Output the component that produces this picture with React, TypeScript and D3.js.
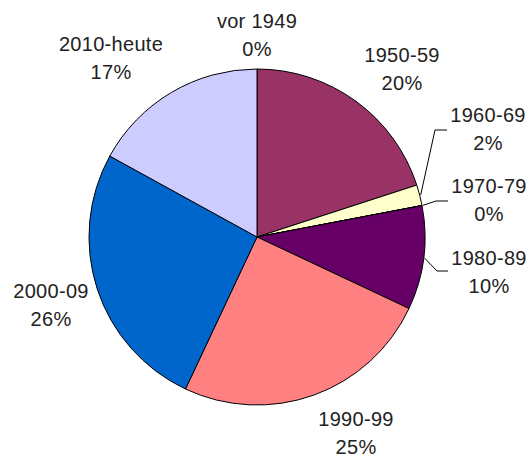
import { FC } from 'react';
import * as d3 from 'd3';

const categories = ['vor 1949', '1950-59', '1960-69', '1970-79', '1980-89', '1990-99', '2000-09', '2010-heute'];
const shares = [0, 20, 2, 0, 10, 25, 26, 17];
const percentLabels = ['0%', '20%', '2%', '0%', '10%', '25%', '26%', '17%'];
const colors = ['#9999FF', '#993366', '#FFFFCC', '#CCFFFF', '#660066', '#FF8080', '#0066CC', '#CCCCFF'];

// label anchors (center x, first baseline) and leader line bends
const labelPos: [number, number][] = [
  [257, 28], [402, 62], [488, 122], [489, 193], [489, 265], [356, 426], [51, 298], [111, 51],
];
const leaders: Record<number, [number, number][]> = {
  2: [[435, 130], [447, 130]],
  3: [[436, 201], [448, 201]],
  4: [[437, 271], [448, 271]],
};

const W = 531;
const H = 459;
const cx = 257;
const cy = 237;
const r = 168;

const App: FC = () => {
  const pie = d3.pie<number>().sort(null).value(d => d).startAngle(0).endAngle(2 * Math.PI);
  const arcs = pie(shares);
  const arc = d3.arc<d3.PieArcDatum<number>>().innerRadius(0).outerRadius(r);
  const edge = d3.arc<d3.PieArcDatum<number>>().innerRadius(r + 1).outerRadius(r + 1);

  return (
    <svg width={W} height={H} style={{ position: 'absolute', left: 0, top: 0, background: '#fff' }}>
      <g transform={`translate(${cx},${cy})`}>
        {arcs.map((a, i) => (
          <path key={categories[i]} d={arc(a) || ''} fill={colors[i]} stroke="#000" strokeWidth={1} strokeLinejoin="round" />
        ))}
      </g>
      {Object.entries(leaders).map(([k, pts]) => {
        const i = +k;
        const [sx, sy] = edge.centroid(arcs[i]);
        const line = d3.line()([[cx + sx, cy + sy], ...pts]);
        return <path key={k} d={line || ''} fill="none" stroke="#000" strokeWidth={1} />;
      })}
      <g fontFamily="'Liberation Sans', Arial, sans-serif" fontSize={20} fill="#222" textAnchor="middle" letterSpacing={0.3}>
        {categories.map((c, i) => (
          <text key={c} x={labelPos[i][0]} y={labelPos[i][1]}>
            <tspan x={labelPos[i][0]}>{c}</tspan>
            <tspan x={labelPos[i][0]} dy={28}>{percentLabels[i]}</tspan>
          </text>
        ))}
      </g>
    </svg>
  );
};

export default App;
